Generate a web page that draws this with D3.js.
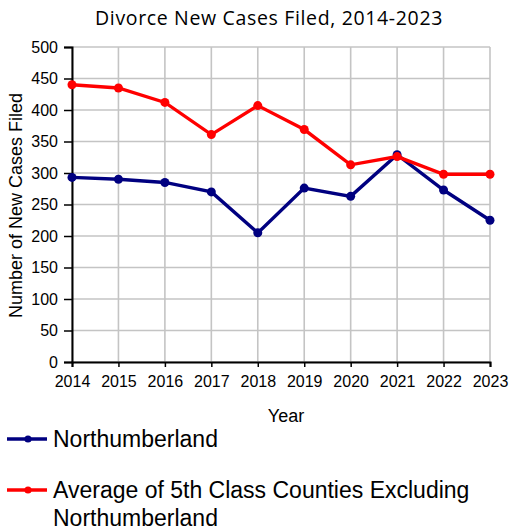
<!DOCTYPE html>
<html>
<head>
<meta charset="utf-8">
<script src="https://cdn.jsdelivr.net/npm/d3@7"></script>
<style>
  body { margin: 0; background: #fff; }
  svg { display: block; }
</style>
</head>
<body>
<div id="chart"></div>
<script>
/* data */
const years = [2014, 2015, 2016, 2017, 2018, 2019, 2020, 2021, 2022, 2023];
const northumberland = [293, 290, 285, 270, 205, 276, 263, 329, 273, 225];
const fifthClassAvg  = [440, 435, 412, 361, 407, 369, 313, 326, 298, 298];
const yTicks = [0, 50, 100, 150, 200, 250, 300, 350, 400, 450, 500];

const series = [
  { name: "Northumberland", values: northumberland, color: "#000080" },
  { name: "Average of 5th Class Counties Excluding|Northumberland", values: fifthClassAvg, color: "#ff0000" }
];

const W = 511, H = 531;
const M = { top: 47, left: 72, right: 21, bottom: 169 };
const IW = W - M.left - M.right, IH = H - M.top - M.bottom;
const FONT = "'Liberation Sans', Arial, sans-serif";

const svg = d3.select("#chart").append("svg")
  .attr("width", W).attr("height", H);

const g = svg.append("g").attr("transform", `translate(${M.left},${M.top})`);

const x = d3.scaleLinear().domain([2014, 2023]).range([0, IW]);
const y = d3.scaleLinear().domain([0, 500]).range([IH, 0]);

// grid
g.append("g")
  .selectAll("line").data(yTicks).join("line")
  .attr("x1", 0).attr("x2", IW)
  .attr("y1", d => y(d)).attr("y2", d => y(d))
  .attr("stroke", "#c4c4c4").attr("stroke-width", 1.6);
g.append("g")
  .selectAll("line").data(years).join("line")
  .attr("x1", d => x(d)).attr("x2", d => x(d))
  .attr("y1", 0).attr("y2", IH)
  .attr("stroke", "#c4c4c4").attr("stroke-width", 1.6);

// axes
const yAxis = g.append("g")
  .call(d3.axisLeft(y).tickValues(yTicks).tickSize(8).tickPadding(6));
const xAxis = g.append("g").attr("transform", `translate(0,${IH})`)
  .call(d3.axisBottom(x).tickValues(years).tickFormat(d3.format("d")).tickSize(5).tickPadding(9));
[xAxis, yAxis].forEach(a => {
  a.attr("font-size", null);
  a.select(".domain").attr("stroke", "#000").attr("stroke-width", 2);
  a.selectAll(".tick line").attr("stroke", "#000").attr("stroke-width", 1.5);
  a.selectAll("text").attr("fill", "#000").style("font-family", FONT).style("font-size", "16px");
});

// lines
const line = d3.line().x((d, i) => x(years[i])).y(d => y(d));
series.forEach(s => {
  g.append("path")
    .attr("d", line(s.values))
    .attr("fill", "none")
    .attr("stroke", s.color)
    .attr("stroke-width", 3.4);
  g.append("g").selectAll("circle").data(s.values).join("circle")
    .attr("cx", (d, i) => x(years[i]))
    .attr("cy", d => y(d))
    .attr("r", 4.5)
    .attr("fill", s.color);
});

// titles
const title = svg.append("text")
  .attr("x", 269).attr("y", 25)
  .attr("text-anchor", "middle")
  .style("font-family", "'Open Sans', 'Noto Sans', sans-serif")
  .style("font-size", "19.5px")
  .text("Divorce New Cases Filed, 2014-2023");
// nudge letter spacing so the title spans the same width as the reference
const tw = title.node().getComputedTextLength();
const nChars = title.text().length;
title.style("letter-spacing", `${Math.max(0, (348 - tw) / nChars)}px`);

svg.append("text")
  .attr("transform", `translate(22,${M.top + IH / 2 + 1}) rotate(-90)`)
  .attr("text-anchor", "middle")
  .style("font-family", FONT)
  .style("font-size", "18px")
  .text("Number of New Cases Filed");

svg.append("text")
  .attr("x", 286).attr("y", 422)
  .attr("text-anchor", "middle")
  .style("font-family", FONT)
  .style("font-size", "18px")
  .text("Year");

// legend
const legY = [439, 490];
series.forEach((s, i) => {
  const lg = svg.append("g").attr("transform", `translate(0,${legY[i]})`);
  lg.append("line").attr("x1", 7).attr("x2", 47).attr("y1", 0).attr("y2", 0)
    .attr("stroke", s.color).attr("stroke-width", 3.4);
  lg.append("circle").attr("cx", 28).attr("cy", 0).attr("r", 3.6).attr("fill", s.color);
  const t = lg.append("text")
    .attr("x", 53).attr("y", 7.5)
    .style("font-family", FONT)
    .style("font-size", "23px");
  s.name.split("|").forEach((part, k) => {
    t.append("tspan").attr("x", 53).attr("dy", k === 0 ? 0 : 28).text(part);
  });
});
</script>
</body>
</html>
